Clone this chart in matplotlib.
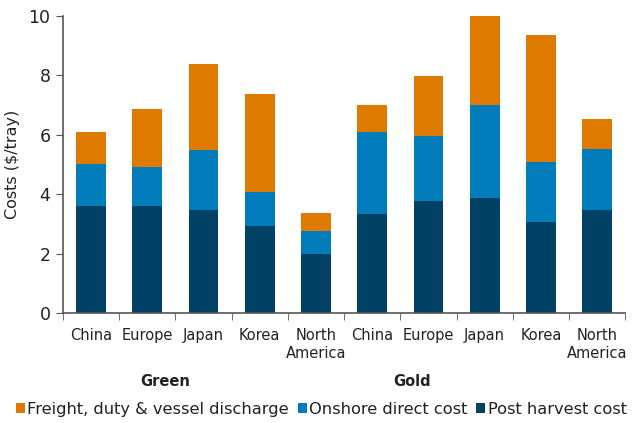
import numpy as np
import matplotlib.pyplot as plt

categories = ["China", "Europe", "Japan", "Korea", "North\nAmerica",
              "China", "Europe", "Japan", "Korea", "North\nAmerica"]
groups = ["Green", "Gold"]

# stacked components ($/tray)
post_harvest = [3.60, 3.60, 3.46, 2.92, 2.00, 3.34, 3.76, 3.87, 3.08, 3.46]
onshore = [1.43, 1.33, 2.03, 1.17, 0.75, 2.75, 2.20, 3.13, 2.00, 2.05]
freight = [1.07, 1.94, 2.88, 3.27, 0.63, 0.91, 2.01, 3.00, 4.27, 1.04]

c_post = "#004165"
c_onshore = "#007cba"
c_freight = "#df7a00"


def main():
    fig = plt.figure(figsize=(6.36, 4.23), dpi=100)
    ax = fig.add_axes([0.099, 0.260, 0.884, 0.702])

    x = np.arange(len(categories))
    post = np.array(post_harvest)
    ons = np.array(onshore)
    fr = np.array(freight)

    w = 0.53
    b1 = ax.bar(x, post, w, color=c_post, label="Post harvest cost")
    b2 = ax.bar(x, ons, w, bottom=post, color=c_onshore, label="Onshore direct cost")
    b3 = ax.bar(x, fr, w, bottom=post + ons, color=c_freight,
                label="Freight, duty & vessel discharge")

    ax.set_xlim(-0.5, len(categories) - 0.5)
    ax.set_ylim(0, 10)
    ax.set_yticks([0, 2, 4, 6, 8, 10])
    ax.tick_params(axis="y", labelsize=12.5, length=5, color="#555555",
                   labelcolor="#222222", pad=4)

    ax.set_xticks(x)
    ax.set_xticklabels(categories, fontsize=10.5, color="#222222")
    ax.set_xticks(np.arange(-0.5, len(categories)), minor=True)
    ax.tick_params(axis="x", which="major", length=0, pad=11)
    ax.tick_params(axis="x", which="minor", length=5, color="#555555")

    for s in ["top", "right"]:
        ax.spines[s].set_visible(False)
    for s in ["left", "bottom"]:
        ax.spines[s].set_color("#555555")
        ax.spines[s].set_linewidth(1.2)

    ax.set_ylabel("Costs ($/tray)", fontsize=11.5, color="#222222", labelpad=6)

    ax.text(0.181, -0.23, groups[0], transform=ax.transAxes, ha="center",
            va="center", fontsize=10.5, fontweight="bold", color="#222222")
    ax.text(0.621, -0.23, groups[1], transform=ax.transAxes, ha="center",
            va="center", fontsize=10.5, fontweight="bold", color="#222222")

    fig.legend(handles=[b3, b2, b1], loc="lower center", ncol=3,
               bbox_to_anchor=(0.505, -0.02), frameon=False, fontsize=11.7,
               handlelength=0.55, handleheight=0.6, handletextpad=0.15,
               columnspacing=0.55, labelcolor="#222222")

    fig.savefig("out.png", dpi=100)


if __name__ == "__main__":
    main()
